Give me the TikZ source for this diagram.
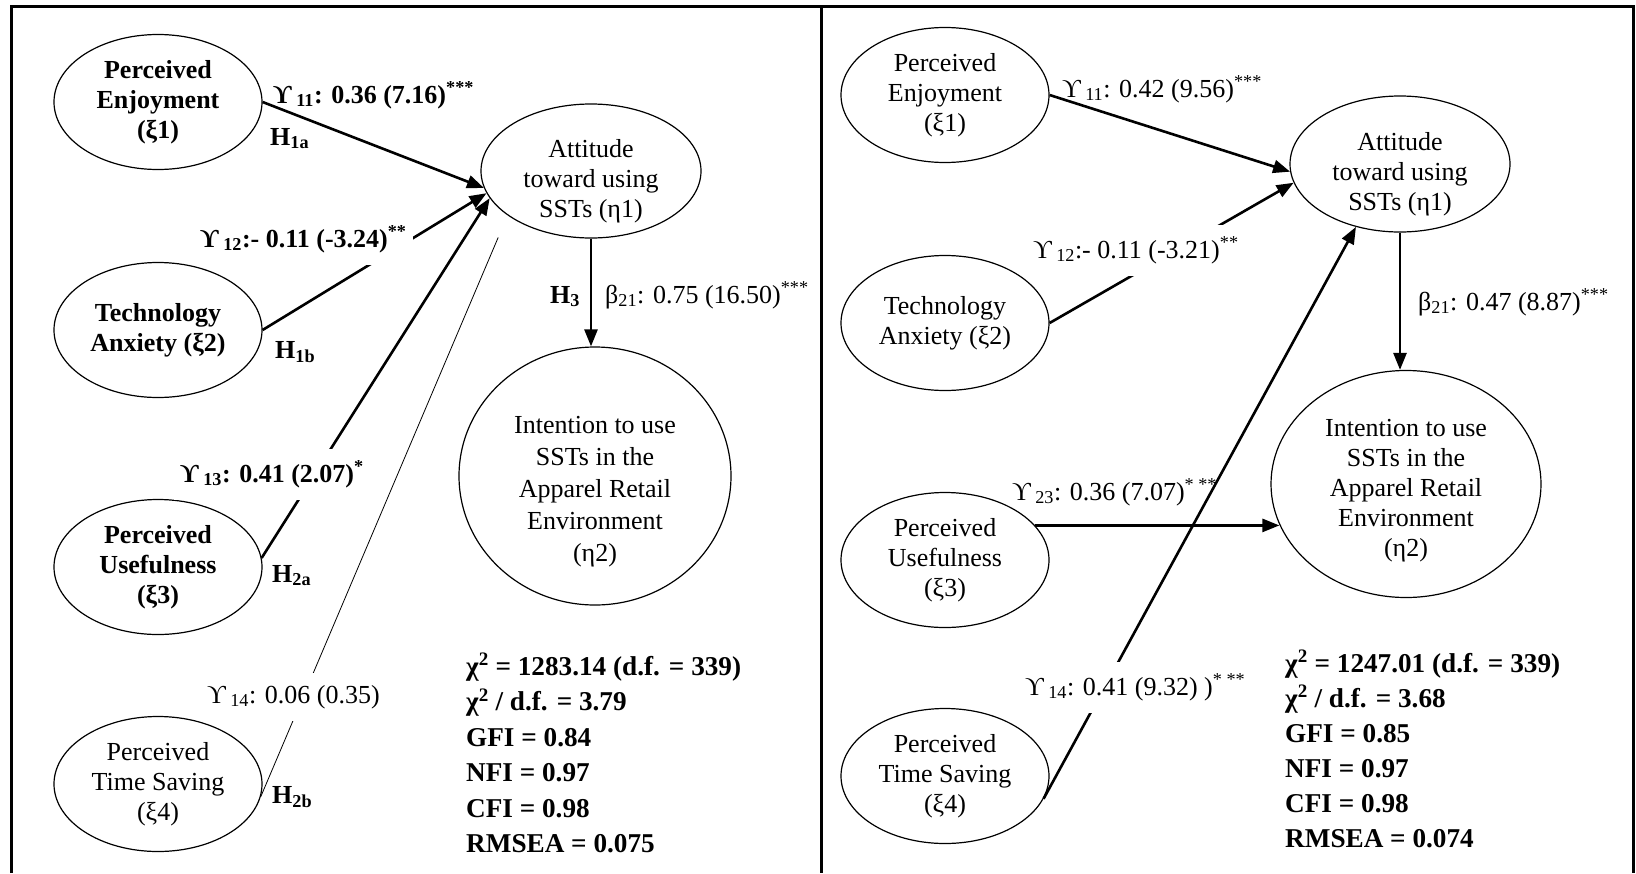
\documentclass[tikz,border=0pt]{standalone}
\usepackage{fontspec}
\setmainfont{Liberation Serif}
\usepackage{tikz}
\usetikzlibrary{shapes,arrows,arrows.meta,positioning}

\newcommand{\sig}[1]{\textsuperscript{#1}}
\newcommand{\gam}[1]{ϒ\,\textsubscript{#1}}

\begin{document}
\begin{tikzpicture}[x=1pt,y=-1pt,
  latent/.style={ellipse, draw, line width=1.2pt, minimum width=208pt, minimum height=135pt, inner sep=0pt, align=center, font=\fontsize{26}{30}\selectfont},
  boldlatent/.style={latent, font=\fontsize{26}{30}\selectfont\bfseries},
  latenttext/.style={align=center, inner sep=0pt, font=\fontsize{26}{#1}\selectfont},
  effect/.style={line width=2.6pt, -{Triangle[length=17pt,width=13pt]}},
  lbl/.style={anchor=base west, inner sep=0pt, font=\fontsize{26}{30}\selectfont},
  blbl/.style={lbl, font=\fontsize{26}{30}\selectfont\bfseries},
  gapfill/.style={fill=white, inner xsep=6pt, inner ysep=12pt},
  fitstat/.style={anchor=base west, inner sep=0pt, font=\fontsize{27.2}{30}\selectfont\bfseries}]
\useasboundingbox (0,0) rectangle (1636,873);
% Frame of the two panels
\draw[line width=3pt] (11,873) -- (11,6) -- (1633,6) -- (1633,873);
\draw[line width=3pt] (821,6) -- (821,873);

% Left panel: constructs
\node[boldlatent] (pel) at (158,102) {Perceived\\Enjoyment\\(ξ1)};
\node[boldlatent] (tal) at (158,330) {Technology\\Anxiety (ξ2)};
\node[boldlatent] (pul) at (158,567) {Perceived\\Usefulness\\(ξ3)};
\node[latent] (ptl) at (158,784) {Perceived\\Time Saving\\(ξ4)};
\node[latent, minimum width=220pt, minimum height=134pt] (attl) at (591,171) {};
\node[latenttext=30] (attltxt) at ([yshift=-10pt]attl.center) {Attitude\\toward using\\SSTs (η1)};
\node[latent, minimum width=272pt, minimum height=258pt] (intl) at (595,476) {};
\node[latenttext=32] (intltxt) at ([yshift=-16pt]intl.center) {Intention to use\\SSTs in the\\Apparel Retail\\Environment\\(η2)};
% Left panel: paths
\draw[effect] (pel.east) -- (attl.189);
\draw[effect] (tal.east) -- (attl.192);
\draw[effect] (pul.5) -- (attl.195);
\draw[line width=0.8pt, shorten >=24pt] (ptl.-7) -- (attl.208);
\draw[effect] (attl.south) -- (attl.south |- intl.north);
% Left panel: estimates
\node[blbl] (g11l) at (273,103) {\gam{11}: 0.36 (7.16)\sig{***}};
\node[blbl] (h1a) at (270,145) {H\textsubscript{1a}};
\node[blbl, gapfill] (g12l) at (194,247) {\gam{12}:- 0.11 (-3.24)\sig{**}};
\node[blbl] (h1b) at (275,358) {H\textsubscript{1b}};
\node[blbl, gapfill] (g13l) at (174,482) {\gam{13}: 0.41 (2.07)\sig{*}};
\node[blbl] (h2a) at (272,582) {H\textsubscript{2a}};
\node[lbl, gapfill] (g14l) at (201,703) {\gam{14}: 0.06 (0.35)};
\node[blbl] (h2b) at (272,803) {H\textsubscript{2b}};
\node[blbl] (h3) at (550,303) {H\textsubscript{3}};
\node[lbl] (b21l) at (605,303) {β\textsubscript{21}: 0.75 (16.50)\sig{***}};
% Left panel: fit
\foreach \stat [count=\i] in {χ\textsuperscript{2} = 1283.14 (d.f. = 339), χ\textsuperscript{2} / d.f. = 3.79, GFI = 0.84, NFI = 0.97, CFI = 0.98, RMSEA = 0.075}
  \node[fitstat] (statl\i) at (466,{675+35.5*(\i-1)}) {\stat};

% Right panel: constructs
\node[latent] (per) at (945,95) {Perceived\\Enjoyment\\(ξ1)};
\node[latent] (tar) at (945,323) {Technology\\Anxiety (ξ2)};
\node[latent] (pur) at (945,560) {Perceived\\Usefulness\\(ξ3)};
\node[latent] (ptr) at (945,776) {Perceived\\Time Saving\\(ξ4)};
\node[latent, minimum width=220pt, minimum height=136pt] (attr) at (1400,164) {};
\node[latenttext=30] (attrtxt) at ([yshift=-10pt]attr.center) {Attitude\\toward using\\SSTs (η1)};
\node[latent, minimum width=270pt, minimum height=227pt] (intr) at (1406,484) {};
\node[latenttext=30] (intrtxt) at ([yshift=-7pt]intr.center) {Intention to use\\SSTs in the\\Apparel Retail\\Environment\\(η2)};
% Right panel: paths
\draw[effect] (per.east) -- (attr.184);
\draw[effect] (tar.east) -- (attr.190);
\draw[effect, shorten >=-9pt] (pur.21) -- (pur.21 -| intr.west);
\draw[effect] (ptr.-13) -- (attr.235);
\draw[effect] (attr.south) -- (attr.south |- intr.north);
% Right panel: estimates
\node[lbl] (g11r) at (1062,97) {\gam{11}: 0.42 (9.56)\sig{***}};
\node[lbl, gapfill] (g12r) at (1027,258) {\gam{12}:- 0.11 (-3.21)\sig{**}};
\node[lbl] (g23r) at (1012,500) {\gam{23}: 0.36 (7.07)\sig{* **}};
\node[lbl, gapfill] (g14r) at (1019,695) {\gam{14}: 0.41 (9.32) )\sig{* **}};
\node[lbl] (b21r) at (1418,310) {β\textsubscript{21}: 0.47 (8.87)\sig{***}};
% Right panel: fit
\foreach \stat [count=\i] in {χ\textsuperscript{2} = 1247.01 (d.f. = 339), χ\textsuperscript{2} / d.f. = 3.68, GFI = 0.85, NFI = 0.97, CFI = 0.98, RMSEA = 0.074}
  \node[fitstat] (statr\i) at (1285,{672+35*(\i-1)}) {\stat};
\end{tikzpicture}
\end{document}
